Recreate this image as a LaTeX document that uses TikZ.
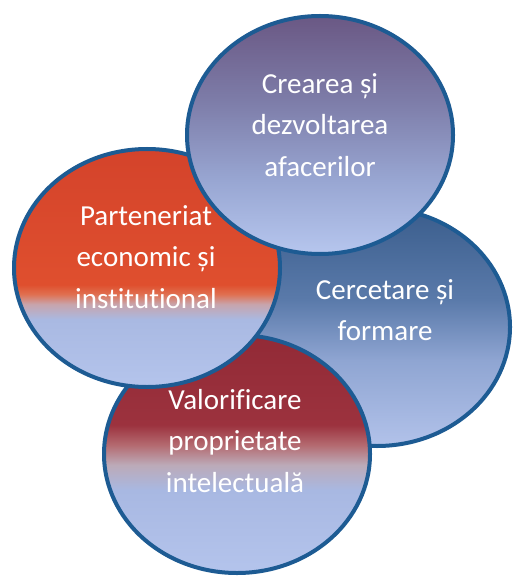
\documentclass[tikz,border=0pt]{standalone}
\usepackage{fontspec}
\setmainfont{Carlito}[Ligatures=NoCommon]
\usetikzlibrary{shapes.geometric}
\definecolor{rim}{HTML}{1D5B93}
\definecolor{creaTop}{HTML}{6A5884}
\definecolor{creaA}{HTML}{7D7CA8}
\definecolor{creaB}{HTML}{98A6D2}
\definecolor{creaBot}{HTML}{B6C6EE}
\definecolor{parTop}{HTML}{D4432B}
\definecolor{parA}{HTML}{DF4F2E}
\definecolor{parB}{HTML}{E07050}
\definecolor{parC}{HTML}{C8A4AC}
\definecolor{parD}{HTML}{A9B9E2}
\definecolor{parBot}{HTML}{B4C4EC}
\definecolor{cerTop}{HTML}{3A5D8C}
\definecolor{cerA}{HTML}{5A7AAA}
\definecolor{cerB}{HTML}{8FA5D2}
\definecolor{cerBot}{HTML}{B2C2EA}
\definecolor{valTop}{HTML}{922A36}
\definecolor{valA}{HTML}{9C323E}
\definecolor{valB}{HTML}{B46A70}
\definecolor{valC}{HTML}{BCAAB8}
\definecolor{valD}{HTML}{A8B8E2}
\definecolor{valBot}{HTML}{B4C4EC}
\pgfdeclareverticalshading{creaSh}{100bp}{color(0bp)=(creaBot); color(25bp)=(creaBot); color(40.5bp)=(creaB); color(57.4bp)=(creaA); color(75bp)=(creaTop); color(100bp)=(creaTop)}
\pgfdeclareverticalshading{parSh}{100bp}{color(0bp)=(parBot); color(25bp)=(parBot); color(39.2bp)=(parD); color(42.4bp)=(parC); color(44.5bp)=(parB); color(46.5bp)=(parA); color(75bp)=(parTop); color(100bp)=(parTop)}
\pgfdeclareverticalshading{cerSh}{100bp}{color(0bp)=(cerBot); color(25bp)=(cerBot); color(43bp)=(cerB); color(55.7bp)=(cerA); color(75bp)=(cerTop); color(100bp)=(cerTop)}
\pgfdeclareverticalshading{valSh}{100bp}{color(0bp)=(valBot); color(25bp)=(valBot); color(42.4bp)=(valD); color(47.7bp)=(valC); color(51.9bp)=(valB); color(56.1bp)=(valA); color(75bp)=(valTop); color(100bp)=(valTop)}
\tikzset{
  bubble/.style={ellipse, draw=rim, line width=4pt, minimum width=266pt, minimum height=238pt, inner sep=0pt},
  lbl/.style={text=white, align=center, inner sep=0pt, font=\fontsize{29}{41.5}\selectfont}
}
\begin{document}
\begin{tikzpicture}[x=1pt,y=1pt]
\useasboundingbox (0,0) rectangle (512,-577);
\node[bubble, shading=cerSh] (cer) at (377,-327) {};
\node[lbl] (cerT) at (385,-310) {Cercetare și\\formare};
\node[bubble, shading=valSh] (val) at (237,-454) {};
\node[lbl] (valT) at (235,-441) {Valorificare\\proprietate\\intelectuală};
\node[bubble, shading=parSh] (par) at (147,-268) {};
\node[lbl] (parT) at (146,-257) {Parteneriat\\economic și\\institutional};
\node[bubble, shading=creaSh] (crea) at (320,-135) {};
\node[lbl] (creaT) at (320,-125) {Crearea și\\dezvoltarea\\afacerilor};
\end{tikzpicture}
\end{document}
